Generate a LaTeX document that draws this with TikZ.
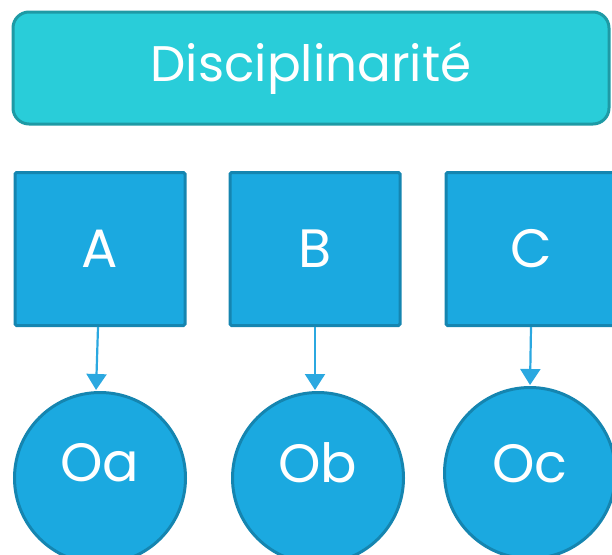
\documentclass[tikz,border=0pt]{standalone}
\usepackage{fontspec}
\setmainfont{Poppins}
\usetikzlibrary{arrows.meta}
\definecolor{titlefill}{HTML}{29CDD9}
\definecolor{titledraw}{HTML}{1E9AA5}
\definecolor{boxfill}{HTML}{1BA9E0}
\definecolor{boxdraw}{HTML}{1585B0}
\definecolor{arrowcol}{HTML}{2BA8E0}
\tikzset{
  bigtext/.style={text=white, font=\fontsize{54}{60}\selectfont},
  titlebox/.style={draw=titledraw, fill=titlefill, line width=3pt, rounded corners=16pt,
    minimum width=596pt, minimum height=112pt, inner sep=0pt, text=white, font=\fontsize{50}{56}\selectfont},
  sqbox/.style={draw=boxdraw, fill=boxfill, line width=3pt, rounded corners=1.5pt,
    minimum width=170pt, minimum height=153pt, inner sep=0pt, bigtext},
  obox/.style={draw=boxdraw, fill=boxfill, line width=3pt, circle,
    minimum size=171pt, inner sep=0pt},
  olabel/.style={bigtext, inner sep=0pt, anchor=center, yshift=15pt},
  conn/.style={draw=arrowcol, line width=2.2pt, -{Triangle[length=16pt,width=20pt]}, shorten >=1pt}
}
\begin{document}
\begin{tikzpicture}[x=1pt,y=-1pt]
\useasboundingbox (0,0) rectangle (612,554);
\clip (0,0) rectangle (612,554);
\node[titlebox] (t) at (311,68) {\raisebox{-4pt}{Disciplinarité}};
\node[sqbox] (a) at (100,249) {A};
\node[sqbox] (b) at (315,249) {B};
\node[sqbox] (c) at (531,249) {C};
\node[obox, label={[olabel]center:Oa}] (oa) at (100,478) {};
\node[obox, label={[olabel]center:Ob}] (ob) at (318,478) {};
\node[obox, label={[olabel, yshift=-6pt]center:Oc}] (oc) at (530,473) {};
\draw[conn] ([xshift=-2pt]a.south) -- ([xshift=-4pt]oa.north);
\draw[conn] (b.south) -- (ob.north -| b.south);
\draw[conn] (c.south) -- (oc.north);
\end{tikzpicture}
\end{document}
